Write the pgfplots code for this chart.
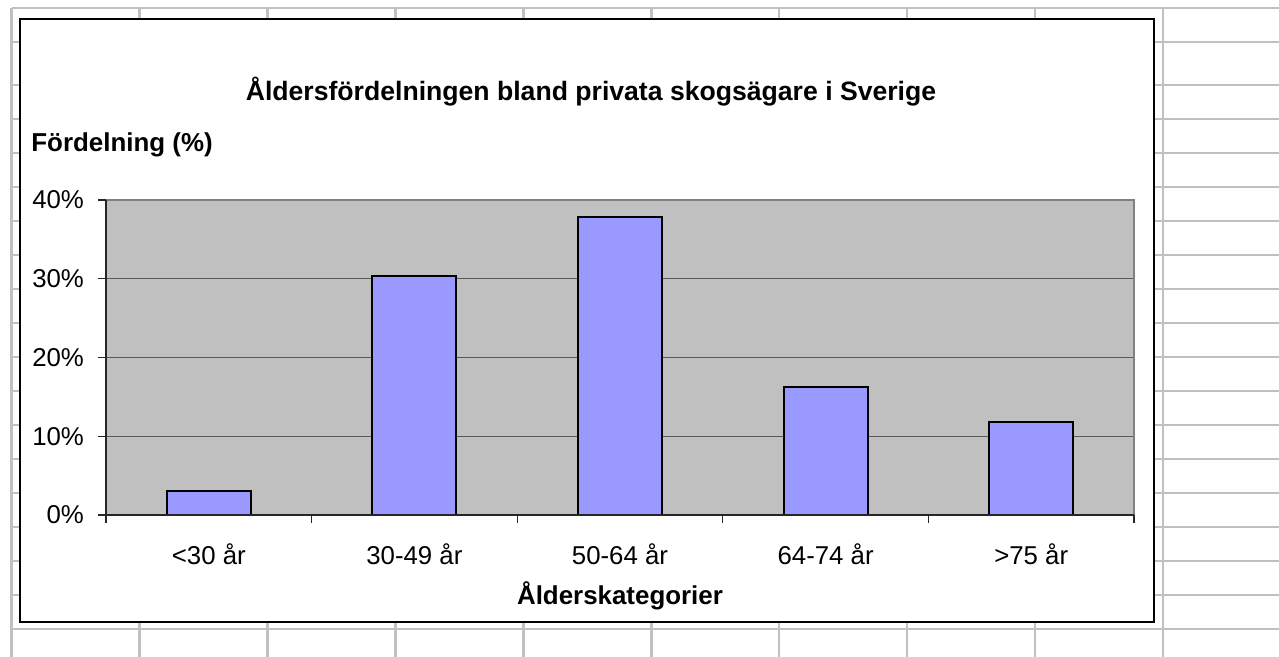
\documentclass[border=0pt]{standalone}
\usepackage{fontspec}
\setmainfont{Liberation Sans}
\usepackage{pgfplots}
\pgfplotsset{compat=1.18}
\definecolor{barfill}{HTML}{9999FF}
\definecolor{plotbg}{HTML}{C0C0C0}
\definecolor{sheetgrid}{HTML}{C0C0C0}
\definecolor{frameg}{HTML}{808080}
\begin{document}
\begin{tikzpicture}[x=0.5pt,y=0.5pt]
% spreadsheet cell grid behind the chart
\foreach \p in {8.3,42,85.5,119.5,153.5,187.5,221.5,255.5,289.5,323.5,357.5,391.5,425.5,459.5,493.5,527.5,561.5,595.5,629.5}
  \draw[sheetgrid,line width=1pt] (11.7,{657-\p}) -- (1279,{657-\p});
\foreach \k in {0,...,9}
  \draw[sheetgrid,line width=1.3pt] ({11.7+127.9*\k},{657-8.3}) -- ({11.7+127.9*\k},0);
% chart area
\fill[white] (20,35) rectangle (1154,638);
\draw[black,line width=1pt] (20,35) rectangle (1154,638);
\begin{axis}[
  at={(53pt,71pt)}, anchor=south west,
  scale only axis, width=514pt, height=157.5pt,
  xmin=-0.5, xmax=4.5, ymin=0, ymax=40,
  axis background/.style={fill=plotbg},
  ybar, bar width=42pt,
  xtick={0,1,2,3,4},
  xticklabels={{<30 år},{30-49 år},{50-64 år},{64-74 år},{>75 år}},
  major x tick style={draw=none},
  minor xtick={-0.5,0.5,1.5,2.5,3.5,4.5},
  ytick={0,10,20,30,40},
  yticklabel={\pgfmathprintnumber[assume math mode=true]{\tick}\%},
  ymajorgrids, major grid style={draw=black!65,line width=0.5pt},
  tick align=outside, major tick length=4pt, minor tick length=4pt,
  xtick pos=bottom, ytick pos=left,
  tick style={black!85,line width=0.6pt},
  axis line style={draw=none},
  ticklabel style={font=\fontsize{12.9}{15}\selectfont},
  xticklabel style={anchor=base, yshift=-21pt},
  yticklabel style={xshift=-3.5pt},
  clip=false,
]
\addplot[fill=barfill, draw=black, line width=1pt] coordinates {(0,3.1) (1,30.3) (2,37.9) (3,16.2) (4,11.8)};
\draw[frameg,line width=0.8pt] (rel axis cs:0,1) -- (rel axis cs:1,1) -- (rel axis cs:1,0);
\draw[black!85,line width=0.9pt] (rel axis cs:0,1) -- (rel axis cs:0,0) -- (rel axis cs:1,0);
\end{axis}
\node[anchor=base, inner sep=0, font=\bfseries\fontsize{13.3}{16}\selectfont] at (591,556.5) {Åldersfördelningen bland privata skogsägare i Sverige};
\node[anchor=base west, inner sep=0, font=\bfseries\fontsize{12.95}{16}\selectfont] at (31,505.3) {Fördelning (\%)};
\node[anchor=base, inner sep=0, font=\bfseries\fontsize{12.95}{16}\selectfont] at (620,52.7) {Ålderskategorier};
\pgfresetboundingbox
\path (0,0) rectangle (1279,657);
\end{tikzpicture}
\end{document}
